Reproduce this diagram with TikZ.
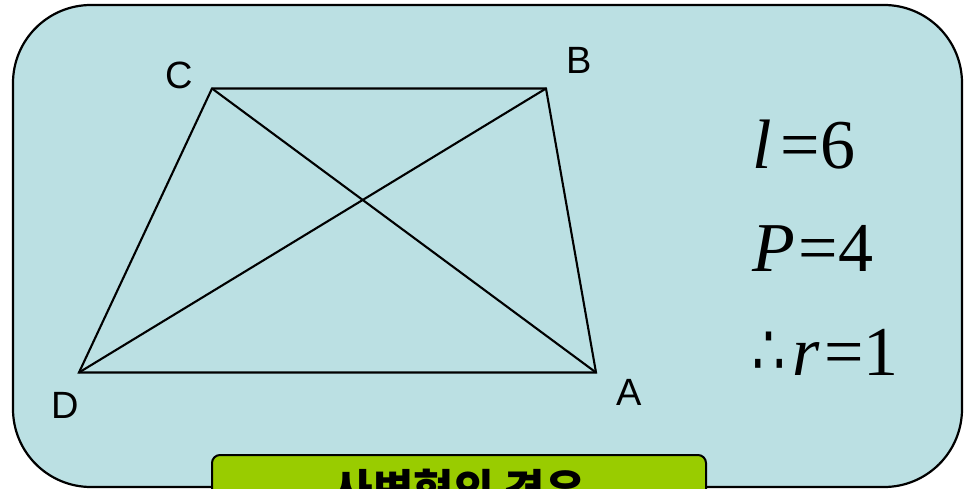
\documentclass[tikz,border=0pt]{standalone}
\usepackage{fontspec}
\usepackage{graphicx}
\setmainfont{Liberation Serif}
\newfontfamily\lblfont{Liberation Sans}
\newfontfamily\krfont{Noto Sans CJK KR}
\newfontfamily\symfont{DejaVu Sans}
\definecolor{bgcyan}{RGB}{187,224,227}
\definecolor{grn}{RGB}{153,204,0}
\tikzset{
  vlabel/.style={inner sep=0pt, font=\lblfont\fontsize{38}{44}\selectfont},
  eqn/.style={inner sep=0pt, anchor=base west, font=\fontsize{70}{84}\selectfont},
  edge/.style={line width=2.1pt, line join=miter},
}
\begin{document}
\begin{tikzpicture}[x=1pt,y=-1pt]
\useasboundingbox (0,0) rectangle (964,489);
\fill[white] (0,0) rectangle (964,489);
\draw[line width=2.2pt, fill=bgcyan, rounded corners=78pt] (13,5) rectangle (962,487);
\coordinate (C) at (212,88.5);
\coordinate (B) at (546,88.5);
\coordinate (A) at (596,372.5);
\coordinate (D) at (79,372.5);
\draw[edge] (C) -- (B) -- (A) -- (D) -- cycle;
\draw[edge] (D) -- (B);
\draw[edge] (C) -- (A);
\node[vlabel] (lC) at (179,75) {C};
\node[vlabel] (lB) at (579,60) {B};
\node[vlabel] (lD) at (65,405) {D};
\node[vlabel] (lA) at (629,392) {A};
\node[eqn] (e1) at (752,169) {\itshape l\hspace{9pt}\upshape =6};
\node[eqn] (e2) at (752,272) {\itshape P\hspace{4pt}\upshape =4};
\node[eqn] (e3) at (752,375) {\makebox[40pt][l]{\symfont\fontsize{72}{76}\selectfont\scalebox{0.72}[1]{∴}}\itshape r\hspace{5pt}\upshape =1};
\draw[line width=2pt, fill=grn, rounded corners=8pt] (212,455) rectangle (706,530);
\node[inner sep=0pt, anchor=base, font=\krfont\bfseries\fontsize{44}{50}\selectfont] (title) at (459,506) {사변형의 경우};
\end{tikzpicture}
\end{document}
